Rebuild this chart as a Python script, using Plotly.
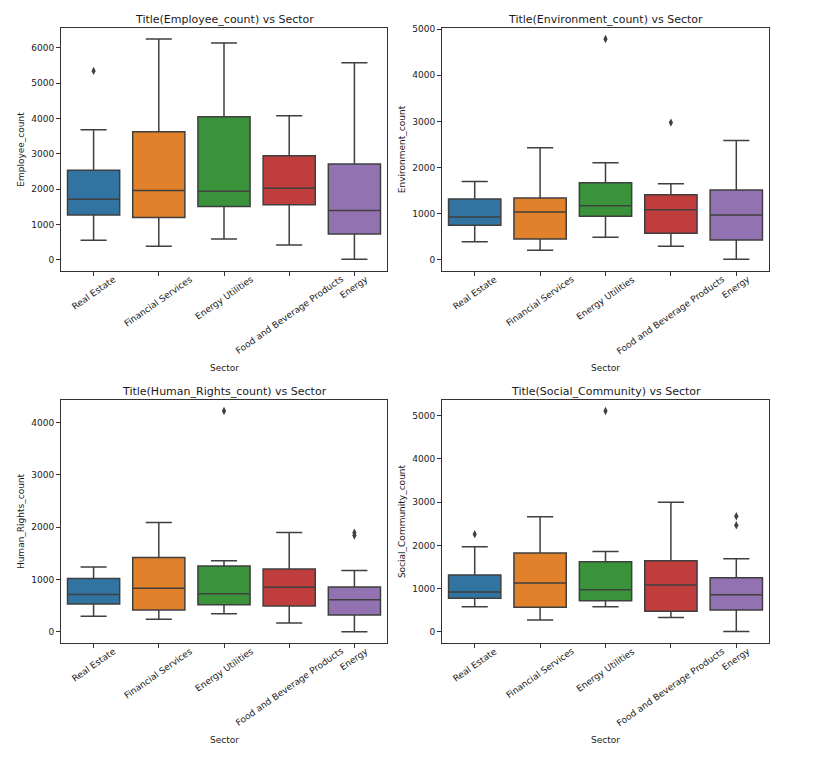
import plotly.graph_objects as go
from plotly.subplots import make_subplots

# ---- data ----
sectors = ['Real Estate', 'Financial Services', 'Energy Utilities',
           'Food and Beverage Products', 'Energy']
colors = ['#3274a1', '#e1812c', '#3a923a', '#c03d3e', '#9372b2']

# Employee_count
emp_low = [554, 385, 592, 423, 19]
emp_q1 = [1268, 1202, 1512, 1559, 732]
emp_med = [1718, 1962, 1944, 2028, 1399]
emp_q3 = [2535, 3624, 4047, 2948, 2714]
emp_high = [3681, 6244, 6131, 4075, 5577]
emp_out_x = ['Real Estate']
emp_out_y = [5343]

# Environment_count
env_low = [396, 209, 490, 295, 14]
env_q1 = [749, 454, 944, 576, 432]
env_med = [929, 1037, 1174, 1088, 973]
env_q3 = [1318, 1340, 1671, 1412, 1513]
env_high = [1700, 2428, 2104, 1650, 2586]
env_out_x = ['Energy Utilities', 'Food and Beverage Products']
env_out_y = [4784, 2975]

# Human_Rights_count
hr_low = [298, 241, 349, 171, 6]
hr_q1 = [533, 419, 521, 495, 324]
hr_med = [717, 832, 730, 851, 616]
hr_q3 = [1022, 1422, 1257, 1200, 857]
hr_high = [1238, 2089, 1359, 1898, 1175]
hr_out_x = ['Energy Utilities', 'Energy', 'Energy']
hr_out_y = [4216, 1892, 1840]

# Social_Community_count
soc_low = [585, 277, 585, 331, 8]
soc_q1 = [777, 569, 723, 477, 508]
soc_med = [923, 1131, 977, 1085, 862]
soc_q3 = [1315, 1823, 1623, 1646, 1254]
soc_high = [1969, 2662, 1862, 3000, 1692]
soc_out_x = ['Real Estate', 'Energy Utilities', 'Energy', 'Energy']
soc_out_y = [2262, 5108, 2677, 2469]

panels = [
    ('Title(Employee_count) vs Sector', 'Employee_count',
     emp_low, emp_q1, emp_med, emp_q3, emp_high, emp_out_x, emp_out_y,
     [-312, 6556], 1, 1),
    ('Title(Environment_count) vs Sector', 'Environment_count',
     env_low, env_q1, env_med, env_q3, env_high, env_out_x, env_out_y,
     [-239, 5023], 1, 2),
    ('Title(Human_Rights_count) vs Sector', 'Human_Rights_count',
     hr_low, hr_q1, hr_med, hr_q3, hr_high, hr_out_x, hr_out_y,
     [-211, 4427], 2, 1),
    ('Title(Social_Community) vs Sector', 'Social_Community_count',
     soc_low, soc_q1, soc_med, soc_q3, soc_high, soc_out_x, soc_out_y,
     [-256, 5364], 2, 2),
]

FONT = 'DejaVu Sans'
TXT = '#1a1a1a'
LINE = '#3f3f3f'

# page has an 8px body margin, so the figure is a bit smaller
W, H, OFF = 819, 751, 8


def xdom(a, b):
    return [(a - OFF) / W, (b - OFF) / W]


def ydom(top, bottom):
    return [1 - (bottom - OFF) / H, 1 - (top - OFF) / H]


fig = make_subplots(rows=2, cols=2)

x_domains = {1: xdom(61, 387), 2: xdom(442, 769)}
y_domains = {1: ydom(28, 271), 2: ydom(400, 643)}

annotations = []
for i, (title, ylab, lo, q1, med, q3, hi, ox, oy, yr, r, c) in enumerate(panels):
    for j, s in enumerate(sectors):
        fig.add_trace(go.Box(
            x=[s], lowerfence=[lo[j]], q1=[q1[j]], median=[med[j]],
            q3=[q3[j]], upperfence=[hi[j]],
            fillcolor=colors[j], line=dict(color=LINE, width=1.5),
            width=0.8, whiskerwidth=0.5, boxpoints=False,
            showlegend=False, hoverinfo='skip'
        ), row=r, col=c)
    fig.add_trace(go.Scatter(
        x=ox, y=oy, mode='markers',
        marker=dict(symbol='diamond-tall', size=6, color=LINE),
        showlegend=False
    ), row=r, col=c)

    n = '' if i == 0 else str(i + 1)
    fig.update_layout({
        'xaxis' + n: dict(
            domain=x_domains[c], type='category', categoryorder='array',
            categoryarray=sectors, range=[-0.5, 4.5], automargin=False,
            showticklabels=False, ticks='outside', ticklen=4,
            tickcolor='#333', showgrid=False, zeroline=False,
            showline=True, linecolor='#333', linewidth=1, mirror=True
        ),
        'yaxis' + n: dict(
            domain=y_domains[r], range=yr, dtick=1000, tick0=0,
            automargin=False,
            ticks='outside', ticklen=4, tickcolor='#333',
            showgrid=False, zeroline=False,
            showline=True, linecolor='#333', linewidth=1, mirror=True,
            tickfont=dict(family=FONT, size=9, color=TXT),
            title=dict(text=ylab, standoff=5,
                       font=dict(family=FONT, size=9, color=TXT))
        ),
    })

    xr = 'x' + n
    yd = 'y' + n + ' domain'
    # subplot title
    annotations.append(dict(
        text=title, xref=xr + ' domain', yref=yd, x=0.5, y=1.0,
        yanchor='bottom', xanchor='center', yshift=0, showarrow=False,
        font=dict(family=FONT, size=11, color=TXT)
    ))
    # rotated category labels, centred on their ticks like matplotlib
    for s in sectors:
        annotations.append(dict(
            text=s, xref=xr, yref=yd, x=s, y=0, yshift=0,
            xanchor='center', yanchor='top', textangle=-35,
            showarrow=False, font=dict(family=FONT, size=9, color=TXT)
        ))
    annotations.append(dict(
        text='Sector', xref=xr + ' domain', yref=yd, x=0.5, y=0,
        yshift=-90, xanchor='center', yanchor='top', showarrow=False,
        font=dict(family=FONT, size=9, color=TXT)
    ))

fig.update_layout(
    width=W, height=H,
    margin=dict(l=0, r=0, t=0, b=0),
    paper_bgcolor='white', plot_bgcolor='white',
    boxmode='overlay',
    annotations=annotations,
    font=dict(family=FONT, size=9, color=TXT)
)

fig.write_html("out.html")
